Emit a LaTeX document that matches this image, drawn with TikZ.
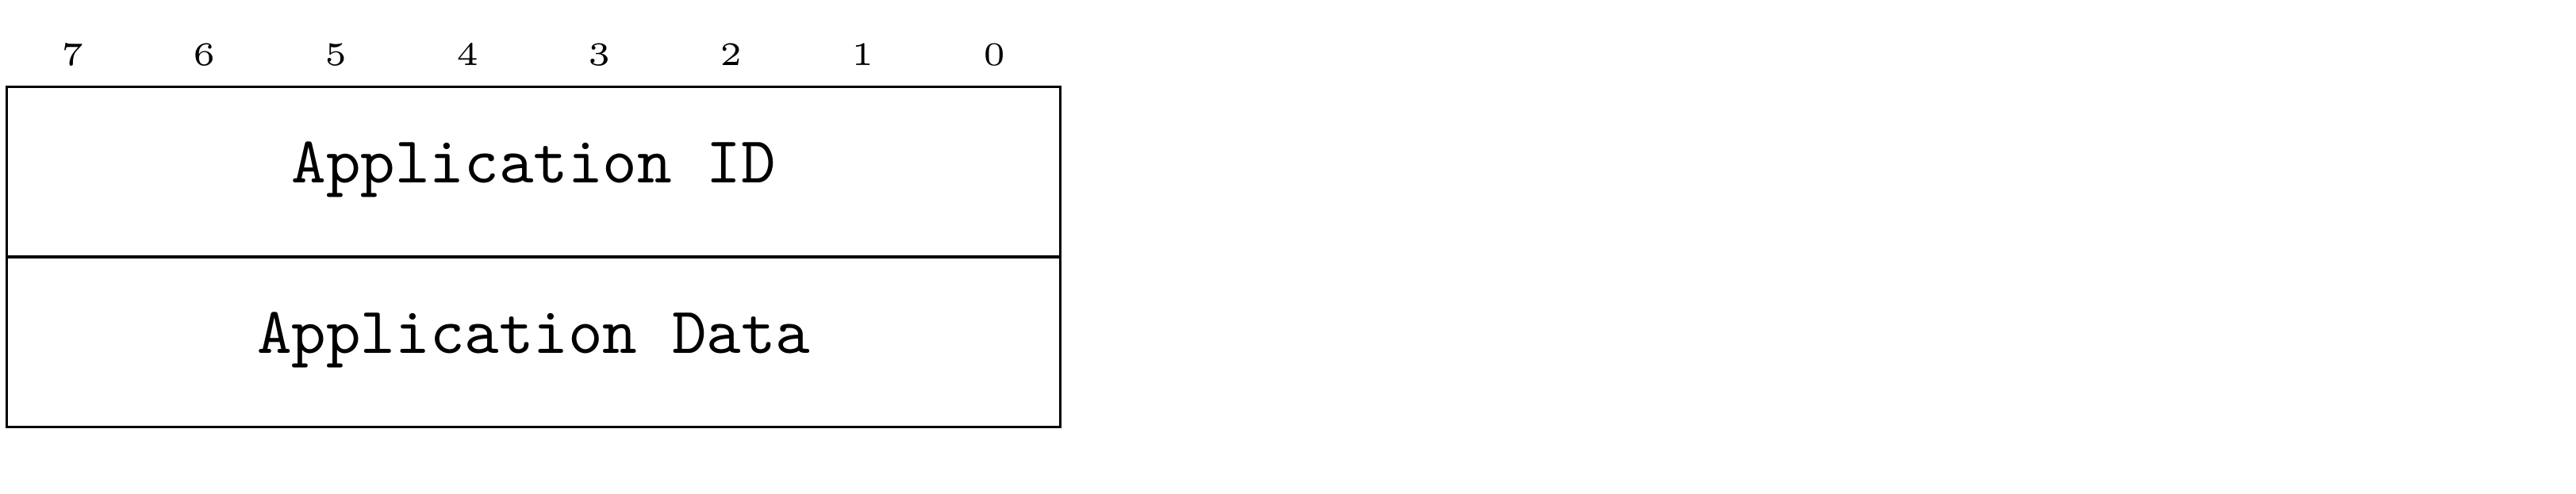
\documentclass[tikz,border=0pt]{standalone}
\usepackage{tikz}
\usetikzlibrary{positioning, calc}

\begin{document}
\begin{tikzpicture}
			\tikzstyle{field}=[draw=black, line width=0.4pt, minimum width=160pt, minimum height=25.85pt, inner sep=0pt, outer sep=0pt, font=\ttfamily, text height=6.2pt, text depth=2.88pt]
			\tikzstyle{bitnum}=[anchor=base, font=\tiny, inner sep=0pt]
			
			\useasboundingbox (-1.05pt,-61.74pt) rectangle (390.15pt,13.2pt);
			
			\node (appid) at (80pt,-12.925pt) [field] {Application ID};
			\node (appdata) [field, below=0pt of appid] {Application Data};
			
			%% bit numbers above the fields
			\foreach \b in {0,...,7}
			\node (bit\b) at ({(7-\b)*20pt+10pt},3.24pt) [bitnum] {\b};
			
\end{tikzpicture}
\end{document}
